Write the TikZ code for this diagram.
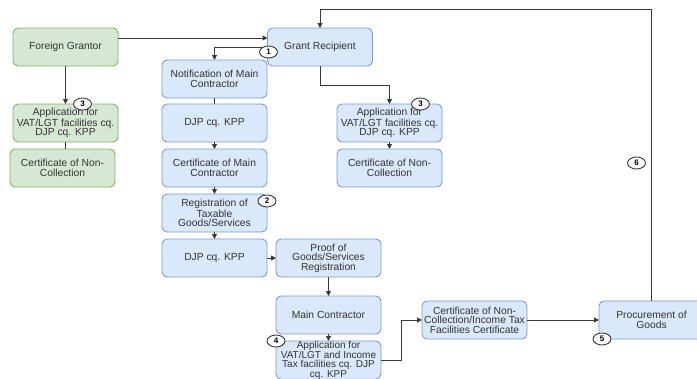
\documentclass[tikz,border=0pt]{standalone}
\usepackage{fontspec}
\setmainfont{Liberation Sans}
\usetikzlibrary{positioning,arrows.meta,shapes.geometric}
\definecolor{greenfill}{HTML}{D5E8D4}
\definecolor{greenline}{HTML}{82B366}
\definecolor{bluefill}{HTML}{DAE8FC}
\definecolor{blueline}{HTML}{7C9CCF}
\definecolor{linkgray}{HTML}{3A3A3A}

\begin{document}
\begin{tikzpicture}[x=1pt, y=1pt, font=\fontsize{10.3}{9.4}\selectfont, box/.style={draw=blueline, fill=bluefill, line width=0.9pt, rounded corners=5pt, align=center, minimum width=105pt, minimum height=38pt, inner xsep=0.5pt, inner ysep=0pt, outer sep=0pt, text=black!80}, greenbox/.style={box, draw=greenline, fill=greenfill}, link/.style={draw=linkgray, line width=1pt}, arrow/.style={link, -{Triangle[length=5pt,width=5pt]}}, numcircle/.style={draw=linkgray, ellipse, fill=white, line width=0.9pt, inner sep=0pt, minimum width=18pt, minimum height=12pt, font=\fontsize{8}{8}\selectfont\bfseries}]
\useasboundingbox (0,0) rectangle (697,-378);
\node[greenbox] (grantor) at (65.5,-47) {Foreign Grantor};
\node[box] (recipient) at (320,-47) {Grant Recipient};
\node[greenbox, below=38pt of grantor] (appgreen) {Application for\\VAT/LGT facilities cq.\\DJP cq. KPP};
\node[greenbox, below=7pt of appgreen, xshift=-3pt] (certgreen) {Certificate of Non-\\Collection};
\node[box] (notif) at (214.5,-79) {Notification of Main\\Contractor};
\node[box, below=6pt of notif] (djpa) {DJP cq. KPP};
\node[box, below=7pt of djpa] (certmain) {Certificate of Main\\Contractor};
\node[box, below=7pt of certmain] (regist) {Registration of\\Taxable\\Goods/Services};
\node[box, below=7pt of regist] (djpb) {DJP cq. KPP};
\node[box, right=9pt of djpb] (proof) {Proof of\\Goods/Services\\Registration};
\node[box, below=19pt of proof] (maincon) {Main Contractor};
\node[box, below=7pt of maincon, font=\fontsize{10}{8.6}\selectfont] (appmain) {Application for\\VAT/LGT and Income\\Tax facilities cq. DJP\\cq. KPP\rule[-2pt]{0pt}{0pt}};
\node[box] (appright) at (389.5,-123) {Application for\\VAT/LGT facilities cq.\\DJP cq. KPP};
\node[box, below=7pt of appright] (certright) {Certificate of Non-\\Collection};
\node[box] (certnc) at (474.5,-320) {Certificate of Non-\\Collection/Income Tax\\Facilities Certificate};
\node[box, right=72pt of certnc] (procure) {Procurement of\\Goods};
\draw[arrow] ([yshift=9pt]grantor.east) -- ([yshift=9pt]recipient.west);
\draw[arrow] (grantor) -- (appgreen);
\draw[link] (appgreen.south) -- (appgreen.south |- certgreen.north);
\draw[arrow] (recipient.west) -| (notif.north);
\draw[arrow] (recipient.south) -- ++(0,-19) -| (appright.north);
\draw[arrow] (appright) -- (certright);
\draw[link] (notif) -- (djpa);
\draw[arrow] (djpa) -- (certmain);
\draw[arrow] (certmain) -- (regist);
\draw[arrow] (regist) -- (djpb);
\draw[arrow] (djpb) -- (proof);
\draw[arrow] (proof) -- (maincon);
\draw[arrow] (maincon) -- (appmain);
\draw[arrow] (appmain.east) -- ++(20,0) |- (certnc.west);
\draw[arrow] (certnc) -- (procure);
\draw[arrow] (procure.north) |- ([yshift=19pt]recipient.north) -- (recipient.north);
\node[numcircle] (numone) at ([xshift=1pt,yshift=-5pt]recipient.west) {1};
\node[numcircle] (numtwo) at ([yshift=-7pt]regist.north east) {2};
\node[numcircle] (numthreea) at ([xshift=17pt]appgreen.north) {3};
\node[numcircle] (numthreeb) at ([xshift=31pt]appright.north) {3};
\node[numcircle] (numfour) at (appmain.north west) {4};
\node[numcircle] (numfive) at ([xshift=3pt]procure.south west) {5};
\node[numcircle] (numsix) at ([xshift=-15pt,yshift=138pt]procure.north) {6};
\end{tikzpicture}
\end{document}
